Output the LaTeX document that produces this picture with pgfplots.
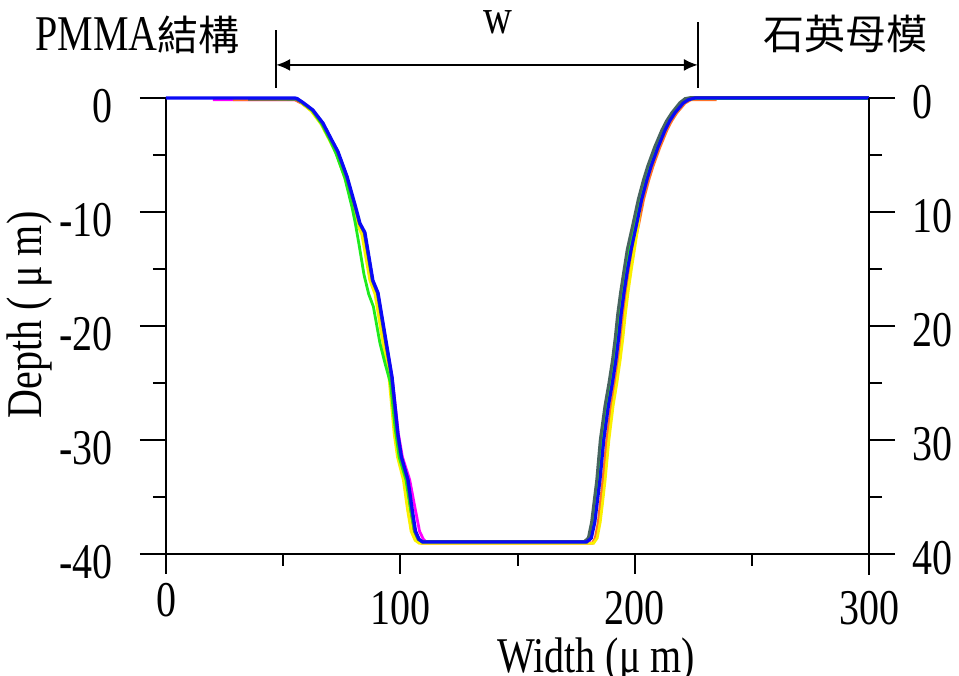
\documentclass[border=0pt]{standalone}
\usepackage{pgfplots}
\pgfplotsset{compat=1.18}
\usepackage{fontspec}
\setmainfont[FakeStretch=0.8]{Liberation Serif}
\newfontfamily\cjk{Noto Sans CJK TC}
\usetikzlibrary{arrows.meta}

\definecolor{cBlue}{RGB}{10,10,245}
\definecolor{cGray}{RGB}{70,100,95}
\definecolor{cGreen}{RGB}{30,235,30}
\definecolor{cYellow}{RGB}{250,240,0}
\definecolor{cOrange}{RGB}{255,115,40}
\definecolor{cMagenta}{RGB}{255,0,255}

\newcommand{\bigfont}{\fontsize{25}{30}\selectfont}

\pgfplotsset{
  profile/.style={
    scale only axis, width=351.5pt, height=228pt,
    xmin=0, xmax=300, clip=false,
    tick align=outside,
    every tick/.style={black, line width=1pt},
    every minor tick/.style={black, line width=1pt},
    axis line style={line width=1pt},
    tick label style={font=\bigfont},
    label style={font=\bigfont},
  },
}

\begin{document}
\begin{tikzpicture}[font=\bigfont]

% left depth axis with the measured profiles
\begin{axis}[profile, name=ax,
  ymin=-40, ymax=0,
  axis y line*=left, axis x line=none,
  ytick={-40,-30,-20,-10,0},
  yticklabels={-40,-30,-20,-10,0},
  minor y tick num=1,
  major tick length=13pt, minor tick length=6.5pt,
  yticklabel style={anchor=east, inner sep=0pt, xshift=-13.5pt, yshift=-4pt},
  ylabel={Depth ( μ m)},
  every axis y label/.style={at={([xshift=-68pt]rel axis cs:0,0.524)}, rotate=90, anchor=center},
]
\addplot[cMagenta, line width=1.4pt] coordinates {
(20,-0.15)(55,-0.15)(58,-0.45)(62.3,-1.1)(66.8,-2.2)(70.6,-3.7)(73.2,-4.7)(77.1,-6.9)
(80.8,-9.6)(82.6,-11)(84.7,-11.8)(88.2,-16)(90.4,-17.1)(94.2,-21.8)(96.5,-24.5)(99.2,-29.5)
(100.9,-31.5)(104,-33.5)(106.3,-36)(108.2,-38)(109.8,-38.7)(111,-38.95)
(180.5,-38.95)(181.2,-38.6)(182.5,-37.2)(183.4,-35.5)(184.6,-33.5)(186.2,-30)(188.2,-27)
(189.9,-25)(191.4,-23)(192.6,-21)(193.6,-19)(194.9,-17)(196.4,-15)(197.9,-13.3)(200.3,-11)
(202.4,-8.9)(204.6,-7.2)(206.4,-6)(209.4,-4.3)(212.4,-2.8)(214.4,-2)(216.6,-1.3)(220.1,-0.45)
(222.4,-0.15)(225.2,-0.05)(300,-0.05)};
\addplot[cOrange, line width=1.4pt] coordinates {
(28.6,-0.15)(55,-0.15)(57.8,-0.45)(62,-1.1)(66.3,-2.25)(70.1,-3.75)(72.7,-4.75)(76.6,-6.95)
(80.3,-9.6)(82.1,-11)(84.2,-11.9)(87.6,-16)(89.8,-17.1)(93.6,-21.8)(95.8,-24.5)(98.3,-29.5)
(99.8,-31.5)(102.5,-33.5)(104.2,-36)(105.8,-38)(107.5,-38.8)(109,-39.05)
(182,-39.05)(183.2,-38.6)(184.5,-37.2)(185.4,-35.5)(186.5,-33.5)(188.1,-30)(190,-27)
(191.7,-25)(193.2,-23)(194.4,-21)(195.3,-19)(196.5,-17)(197.9,-15)(199.3,-13.3)(201.8,-11)
(203.8,-8.9)(206,-7.2)(207.8,-6)(210.8,-4.3)(213.8,-2.8)(215.8,-2)(218,-1.3)(221.5,-0.45)
(224,-0.15)(235,-0.15)};
\addplot[cYellow, line width=1.4pt] coordinates {
(38,-0.05)(56,-0.1)(58,-0.45)(62,-1.15)(66.2,-2.3)(70,-3.8)(72.5,-4.8)(76.3,-7)
(79.8,-9.6)(81.5,-11)(83.6,-12)(87,-16)(89.2,-17.2)(93,-22)(95.2,-24.6)(97.4,-29.5)
(98.8,-31.5)(101.3,-33.5)(103,-36)(104.6,-38)(106.3,-38.8)(108,-39.05)
(182.5,-39.05)(184,-38.6)(185.3,-37.2)(186.3,-35.5)(187.4,-33.5)(189,-30)(190.8,-27)
(192.4,-25)(193.8,-23)(195,-21)(196,-19)(197.2,-17)(198.6,-15)(199.9,-13.3)(201.6,-11)
(202.6,-8.9)(204.7,-7.2)(206.5,-6)(209.4,-4.3)(212.5,-2.8)(214.5,-2)(216.8,-1.3)(220.3,-0.45)
(222.7,-0.15)(225.5,-0.05)(300,-0.05)};
\addplot[cGreen, line width=1.4pt] coordinates {
(47,-0.05)(56,-0.1)(58.3,-0.45)(62.4,-1.1)(66.5,-2.3)(70.2,-3.8)(72.6,-4.9)(76.3,-7)
(79.4,-9.6)(80.8,-11)(82.5,-13)(84.5,-15.5)(86.5,-17.2)(88.5,-18.3)(91.3,-21.5)(93.5,-23.3)
(95.8,-25)(97.8,-29)(99.5,-31.5)(102.4,-33.5)(104.3,-36)(106,-38)(107.6,-38.7)(109.3,-38.95)
(179,-38.95)(180.8,-38.6)(182.2,-37.2)(183.2,-35.5)(184.4,-33.5)(186,-30)(188,-27)
(189.7,-25)(191.2,-23)(192.4,-21)(193.4,-19)(194.7,-17)(196.2,-15)(197.7,-13.3)(200.1,-11)
(202.2,-8.9)(204.4,-7.2)(206.2,-6)(209.2,-4.3)(212.2,-2.8)(214.2,-2)(216.4,-1.3)(219.9,-0.45)
(222.2,-0.15)(225,-0.05)(300,-0.05)};
\addplot[cGray, line width=1.4pt] coordinates {
(35,-0.1)(55.5,-0.1)(58.2,-0.4)(62.4,-1.05)(66.7,-2.2)(70.5,-3.7)(73.1,-4.7)(77,-6.9)
(80.7,-9.6)(82.5,-11)(84.6,-11.8)(88,-16)(90.2,-17.1)(94,-21.8)(96.2,-24.5)(98.7,-29.5)
(100.2,-31.5)(103,-33.5)(104.7,-36)(106.2,-38)(107.8,-38.75)(109.3,-38.9)
(178.5,-38.9)(180.2,-38.6)(181.6,-37.2)(182.6,-35.5)(183.8,-33.5)(185.3,-30)(187.3,-27)
(189,-25)(190.5,-23)(191.7,-21)(192.7,-19)(194,-17)(195.5,-15)(196.8,-13.3)(199.3,-11)
(201.5,-8.9)(203.7,-7.2)(205.5,-6)(208.5,-4.3)(211.6,-2.8)(213.6,-2)(215.8,-1.3)(219.3,-0.4)
(221.5,-0.05)(224,0.05)(300,0.05)};
\addplot[cBlue, line width=1.6pt] coordinates {
(0,0)(55,0)(56,-0.05)(58.5,-0.4)(62.7,-1.05)(67,-2.2)(70.8,-3.7)(73.4,-4.7)(77.3,-6.9)
(81,-9.6)(82.8,-11)(84.9,-11.8)(88.3,-16)(90.5,-17.1)(94.3,-21.8)(96.5,-24.5)(99,-29.5)
(100.5,-31.5)(103.3,-33.5)(105,-36)(106.5,-38)(108,-38.7)(109.5,-38.95)
(179.5,-38.95)(181.5,-38.6)(183,-37.2)(184,-35.5)(185.2,-33.5)(186.8,-30)(188.8,-27)
(190.5,-25)(192,-23)(193.2,-21)(194.2,-19)(195.5,-17)(197,-15)(198.5,-13.3)(200.9,-11)
(203,-8.9)(205.2,-7.2)(207,-6)(210,-4.3)(213,-2.8)(215,-2)(217.2,-1.3)(220.7,-0.45)
(223,-0.15)(225.8,0)(300,0)};

% width annotation above the trench
\draw[line width=0.8pt] (axis cs:47,0.88) -- (axis cs:47,5.96);
\draw[line width=0.8pt] (axis cs:227,0.88) -- (axis cs:227,6.67);
\draw[line width=1pt, {Latex[length=7pt,width=6pt]}-{Latex[length=7pt,width=6pt]}]
  (axis cs:47,2.9) -- (axis cs:227,2.9);
\node[anchor=base] at ([yshift=32pt]axis cs:141.7,0) {w};
\node[anchor=base west, inner sep=0pt] at ([xshift=-65.5pt,yshift=23.5pt]rel axis cs:0,1)
  {PMMA{\cjk\fontsize{20.5}{24}\selectfont 結構}};
\node[anchor=base west, inner sep=0pt] at ([xshift=-53pt,yshift=24pt]rel axis cs:1,1)
  {\cjk\fontsize{20.5}{24}\selectfont 石英母模};
\end{axis}

% bottom width axis
\begin{axis}[profile,
  ymin=-40, ymax=0,
  axis x line*=bottom, axis y line=none,
  xtick={0,100,200,300},
  xticklabels={\raisebox{4pt}{0},100,200,300},
  minor x tick num=1,
  major tick length=10pt, minor tick length=6pt,
  xticklabel style={anchor=base, inner sep=0pt, yshift=-25.5pt},
  xlabel={Width (μ m)},
  every axis x label/.style={at={([yshift=-59.5pt]rel axis cs:0.612,0)}, anchor=base},
]
\draw[line width=1pt] (axis cs:-10.7,-40) -- (axis cs:311,-40);
\end{axis}

% right axis for the quartz mold depth
\begin{axis}[profile,
  ymin=0, ymax=40, y dir=reverse,
  axis y line*=right, axis x line=none,
  ytick={0,10,20,30,40},
  minor y tick num=1,
  major tick length=13pt, minor tick length=6.5pt,
  yticklabels={0,10,20,30,40},
  yticklabel style={anchor=west, inner sep=0pt, xshift=8.5pt, yshift=-2pt},
]
\draw[line width=1pt] (axis cs:300,40) -- (axis cs:300,41.8);
\end{axis}

\pgfresetboundingbox
\path[use as bounding box] ([shift={(-83pt,-61pt)}]ax.south west) rectangle ([shift={(45pt,49pt)}]ax.north east);
\end{tikzpicture}
\end{document}
